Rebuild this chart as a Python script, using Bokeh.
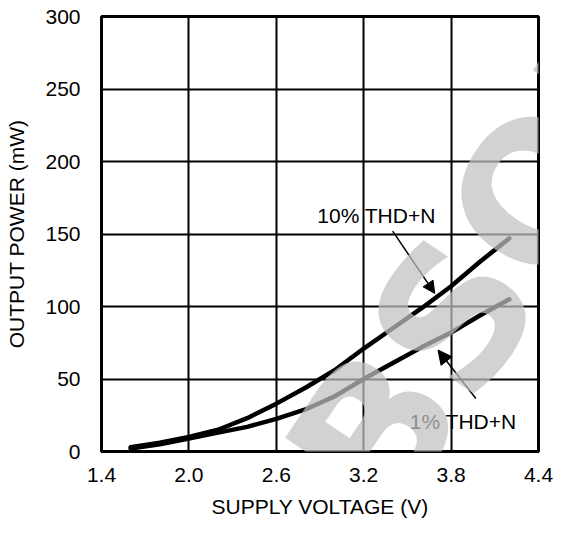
from bokeh.plotting import figure
from bokeh.models import (Range1d, FixedTicker, PrintfTickFormatter, Label, Arrow,
                          NormalHead, ColumnDataSource)
from bokeh.embed import file_html
from bokeh.resources import INLINE

# ---- data ----
supply_v = [1.6, 1.8, 2.0, 2.2, 2.4, 2.6, 2.8, 3.0, 3.2, 3.4, 3.6, 3.8, 4.0, 4.2]
pout_10pct = [3, 6, 10, 15, 23, 33, 44, 56, 71, 85, 99, 114, 131, 147]
pout_1pct = [2, 5, 9, 13, 17, 22.5, 29, 38, 50, 61, 72, 82, 94, 105]

x_ticks = [1.4, 2.0, 2.6, 3.2, 3.8, 4.4]
y_ticks = [0, 50, 100, 150, 200, 250, 300]

label_10 = "10% THD+N"
label_1 = "1% THD+N"
watermark_text = "OBSOLETE"

FONT = "Liberation Sans"
FS = "21px"

p = figure(width=555, height=526, output_backend="svg", toolbar_location=None,
           x_range=Range1d(1.4, 4.4), y_range=Range1d(0, 300),
           min_border_left=101, min_border_right=17, min_border_top=16,
           min_border_bottom=75, background_fill_color="white",
           border_fill_color="white")

p.outline_line_color = "black"
p.outline_line_width = 3

p.xaxis.ticker = FixedTicker(ticks=x_ticks)
p.yaxis.ticker = FixedTicker(ticks=y_ticks)
p.xaxis.formatter = PrintfTickFormatter(format="%.1f")
p.xgrid.ticker = FixedTicker(ticks=x_ticks)
p.ygrid.ticker = FixedTicker(ticks=y_ticks)
for g in (p.xgrid, p.ygrid):
    g.grid_line_color = "black"
    g.grid_line_width = 2

for ax in (p.xaxis, p.yaxis):
    ax.axis_line_color = None
    ax.major_tick_line_color = None
    ax.minor_tick_line_color = None
    ax.major_label_text_font = FONT
    ax.major_label_text_font_size = FS
    ax.major_label_text_color = "black"
    ax.axis_label_text_font = FONT
    ax.axis_label_text_font_size = FS
    ax.axis_label_text_font_style = "normal"
    ax.axis_label_text_color = "black"

p.xaxis.axis_label = "SUPPLY VOLTAGE (V)"
p.yaxis.axis_label = "OUTPUT POWER (mW)"
p.xaxis.major_label_standoff = 10
p.xaxis.axis_label_standoff = 10
p.yaxis.major_label_standoff = 15
p.yaxis.axis_label_standoff = 14

src = ColumnDataSource(dict(v=supply_v, p10=pout_10pct, p1=pout_1pct))
p.line("v", "p10", source=src, line_color="black", line_width=4.5, line_cap="round")
p.line("v", "p1", source=src, line_color="black", line_width=4.5, line_cap="round")

# callouts
p.add_layout(Label(x=3.288, y=163, text=label_10, text_font=FONT, text_font_size=FS,
                   text_align="center", text_baseline="middle", text_color="black"))
p.add_layout(Label(x=3.883, y=21, text=label_1, text_font=FONT, text_font_size=FS,
                   text_align="center", text_baseline="middle", text_color="black"))
p.add_layout(Arrow(x_start=3.399, y_start=152, x_end=3.688, y_end=109,
                   line_color="black", line_width=1.5,
                   end=NormalHead(size=12, fill_color="black", line_color="black")))
p.add_layout(Arrow(x_start=3.97, y_start=36.5, x_end=3.71, y_end=70,
                   line_color="black", line_width=1.5,
                   end=NormalHead(size=14, fill_color="black", line_color="black")))

# watermark
p.add_layout(Label(x=2.389, y=-121, text=watermark_text, angle=56, angle_units="deg",
                   text_font="DejaVu Sans", text_font_style="bold", text_font_size="190px",
                   text_color="#c1c1c1", text_alpha=0.72,
                   text_align="left", text_baseline="middle"))

open("out.html", "w").write(file_html(p, INLINE))
